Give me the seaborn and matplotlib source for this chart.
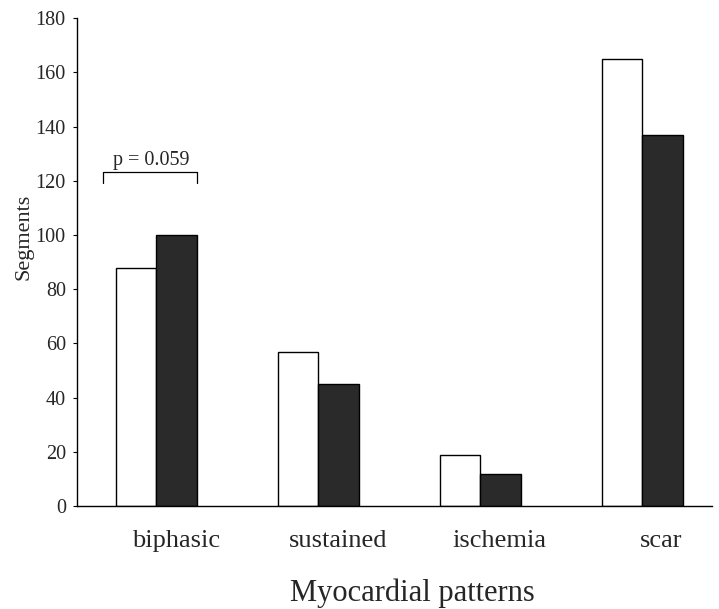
import matplotlib
matplotlib.use("Agg")
import matplotlib.pyplot as plt
import seaborn as sns
import pandas as pd

categories = ["biphasic", "sustained", "ischemia", "scar"]
group_a = [88, 57, 19, 165]   # white bars
group_b = [100, 45, 12, 137]  # dark bars
yticks = [0, 20, 40, 60, 80, 100, 120, 140, 160, 180]

df = pd.DataFrame({
    "pattern": categories * 2,
    "value": group_a + group_b,
    "group": ["A"] * len(categories) + ["B"] * len(categories),
})

sns.set_style("white")
plt.rcParams["font.family"] = ["Liberation Serif", "DejaVu Serif"]

fig = plt.figure(figsize=(7.19, 6.09), dpi=100)
ax = fig.add_axes([0.107, 0.169, 0.883, 0.801])

sns.barplot(data=df, x="pattern", y="value", hue="group", order=categories,
            palette=["white", "#2a2a2a"], edgecolor="black", linewidth=1.0,
            width=0.5, dodge=True, ax=ax, legend=False, errorbar=None)

ax.set_xlim(-0.49, 3.43)
ax.set_ylim(0, 180)
ax.set_yticks(yticks)
ax.set_yticklabels([str(v) for v in yticks], fontsize=14.5)
ax.set_xticks([i + 0.12 for i in range(len(categories))])
ax.set_xticklabels(categories, fontsize=19)
ax.set_xticks([0.5, 1.5, 2.5], minor=True)
ax.tick_params(axis="x", which="major", length=0, pad=17)
ax.tick_params(axis="x", which="minor", length=5, direction="out", width=0.8, color="black")
ax.tick_params(axis="y", length=3, direction="out", width=0.8, color="black", pad=5, left=True)

for s in ["top", "right"]:
    ax.spines[s].set_visible(False)
for s in ["left", "bottom"]:
    ax.spines[s].set_color("black")
    ax.spines[s].set_linewidth(1.0)

ax.set_ylabel("Segments", fontsize=16)
ax.yaxis.set_label_coords(-0.069, 0.552)
ax.set_xlabel("Myocardial patterns", fontsize=22)
ax.xaxis.set_label_coords(0.528, -0.148)

# significance bracket
x0, x1, yb = -0.327, 0.253, 123.2
ax.plot([x0, x0, x1, x1], [yb - 4, yb, yb, yb - 4], color="black", lw=0.9)
ax.text(-0.03, 125.8, "p = 0.059", ha="center", va="baseline", fontsize=14.5)

fig.savefig("out.png", dpi=100)
